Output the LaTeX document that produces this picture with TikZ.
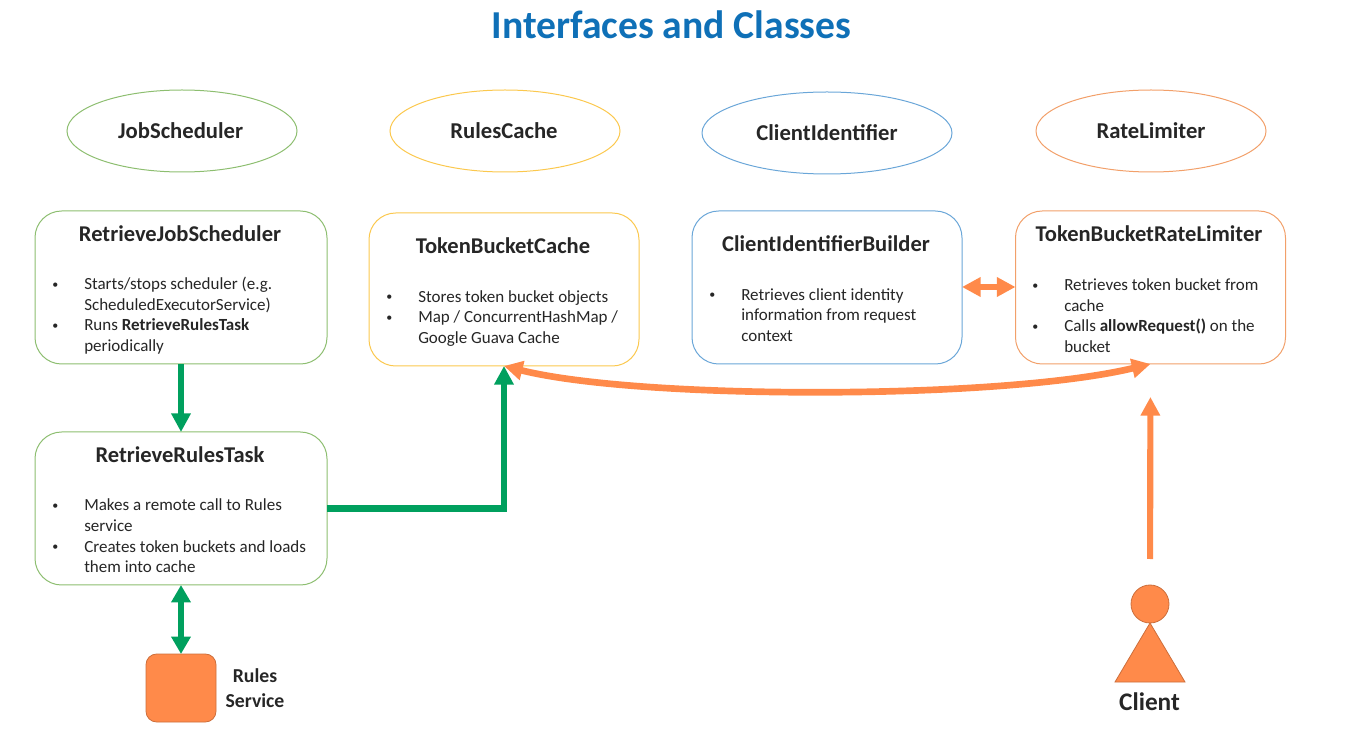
\documentclass[tikz,border=0pt]{standalone}
\usepackage{fontspec}
\setmainfont{Carlito}
\usetikzlibrary{arrows.meta,shapes.geometric}
\definecolor{grn}{HTML}{00A05E}
\definecolor{org}{HTML}{FF8A4A}
\definecolor{bgreen}{HTML}{8DBE70}
\definecolor{byellow}{HTML}{FBC84E}
\definecolor{bblue}{HTML}{6AA6D8}
\definecolor{borange}{HTML}{F2A06A}
\definecolor{ttl}{HTML}{0F70B7}
\definecolor{txt}{HTML}{262626}
\newcommand{\bul}{\makebox[24pt][l]{\fontsize{9}{9}\selectfont\raisebox{1pt}{•}}}
\newcommand{\ind}{\hspace*{24pt}}
\tikzset{
  x=0.75pt,y=-0.75pt,
  oval/.style={ellipse,draw=#1,line width=0.75pt,minimum width=172.5pt,minimum height=61.5pt,inner sep=0pt,outer sep=0pt,font=\fontsize{17}{20}\selectfont\bfseries,text=txt},
  card/.style={rounded corners=20pt,draw=#1,line width=0.75pt,fill=white,inner sep=0pt,outer sep=0pt},
  head/.style={inner sep=0pt,font=\fontsize{16.9}{20}\selectfont\bfseries,text=txt},
  body/.style={inner sep=0pt,anchor=west,align=left,font=\fontsize{12.75}{15.5}\selectfont,text=txt},
  garrow/.style={draw=grn,line width=5pt,-{Triangle[length=14pt,width=14pt]}},
  gboth/.style={draw=grn,line width=5pt,{Triangle[length=13pt,width=14pt]}-{Triangle[length=13pt,width=14pt]}},
  oboth/.style={draw=org,line width=#1,{Triangle[length=14pt,width=14pt]}-{Triangle[length=14pt,width=14pt]}},
  oarrow/.style={draw=org,line width=4.6pt,-{Triangle[length=14pt,width=14pt]}},
}
\begin{document}
\begin{tikzpicture}
\useasboundingbox (0,0) rectangle (1347,755);
\node[inner sep=0pt,text=ttl,font=\fontsize{29.7}{34}\selectfont\bfseries] (title) at (671.5,24.5) {Interfaces and Classes};

\node[oval=bgreen,text depth=0pt] (js) at (182,131) {\hspace*{-2pt}JobScheduler};
\node[oval=byellow] (rc) at (505,131) {\hspace*{-1.5pt}RulesCache};
\node[oval=bblue,minimum width=187.5pt] (ci) at (827,133) {ClientIdentifier};
\node[oval=borange] (rl) at (1151,131) {RateLimiter};

\node[card=bgreen,minimum width=219pt,minimum height=114.75pt] (rjs) at (181,287.5) {};
\node[card=byellow,minimum width=202.5pt,minimum height=114.75pt] (tbc) at (504,289.5) {};
\node[card=bblue,minimum width=202.5pt,minimum height=114.75pt] (cib) at (827,287.5) {};
\node[card=borange,minimum width=202.5pt,minimum height=114.75pt] (tbrl) at (1150.5,287.5) {};
\node[card=bgreen,minimum width=219pt,minimum height=114.75pt] (rrt) at (181,508.5) {};

\node[head] (h1) at (180,234) {RetrieveJobScheduler};
\node[head] (h2) at (503,246) {TokenBucketCache};
\node[head] (h3) at (826,244) {ClientIdentifierBuilder};
\node[head] (h4) at (1149,234) {TokenBucketRateLimiter};
\node[head] (h5) at (180,455) {RetrieveRulesTask};

\node[body] (b1) at (52,315.5) {\bul Starts/stops scheduler (e.g.\\\ind ScheduledExecutorService)\\\bul Runs \textbf{RetrieveRulesTask}\\\ind periodically};
\node[body] (b2) at (386,318.5) {\bul Stores token bucket objects\\\bul Map / ConcurrentHashMap /\\\ind Google Guava Cache};
\node[body] (b3) at (709,315) {\bul Retrieves client identity\\\ind information from request\\\ind context};
\node[body] (b4) at (1032,315.5) {\bul Retrieves token bucket from\\\ind cache\\\bul Calls \textbf{allowRequest()} on the\\\ind bucket};
\node[body] (b5) at (52,536) {\bul Makes a remote call to Rules\\\ind service\\\bul Creates token buckets and loads\\\ind them into cache};

\node[rounded corners=8pt,fill=org,draw=org!80!black,line width=0.6pt,minimum width=52.5pt,minimum height=51pt,inner sep=0pt,outer sep=0pt] (rs) at (181,688) {};
\node[inner sep=0pt,align=center,font=\fontsize{14.8}{18.5}\selectfont\bfseries,text=txt] (rst) at (255,688) {Rules\\Service};

\node[circle,fill=org,draw=org!80!black,line width=0.6pt,minimum size=28.5pt,inner sep=0pt,outer sep=0pt] (chead) at (1150,604) {};
\filldraw[fill=org,draw=org!80!black,line width=0.6pt] (chead.south) -- (1115,682) -- (1185,682) -- cycle;
\node[inner sep=0pt,font=\fontsize{19}{22}\selectfont\bfseries,text=txt] (ct) at (1149.5,702) {Client};

\draw[garrow] (rjs.south) -- (rrt.north);
\draw[garrow] (rrt.east) -| (tbc.south);
\draw[gboth] (rrt.south) -- (rs.north);
\draw[oboth=3.8pt] (cib.east |- 0,287) -- (tbrl.west |- 0,287);
\draw[oboth=5pt] (tbc.south) .. controls (640,400) and (1000,400) .. (tbrl.south);
\draw[oarrow,shorten <=19.5pt,shorten >=24.75pt] (chead.north) -- (tbrl.south);
\end{tikzpicture}
\end{document}
